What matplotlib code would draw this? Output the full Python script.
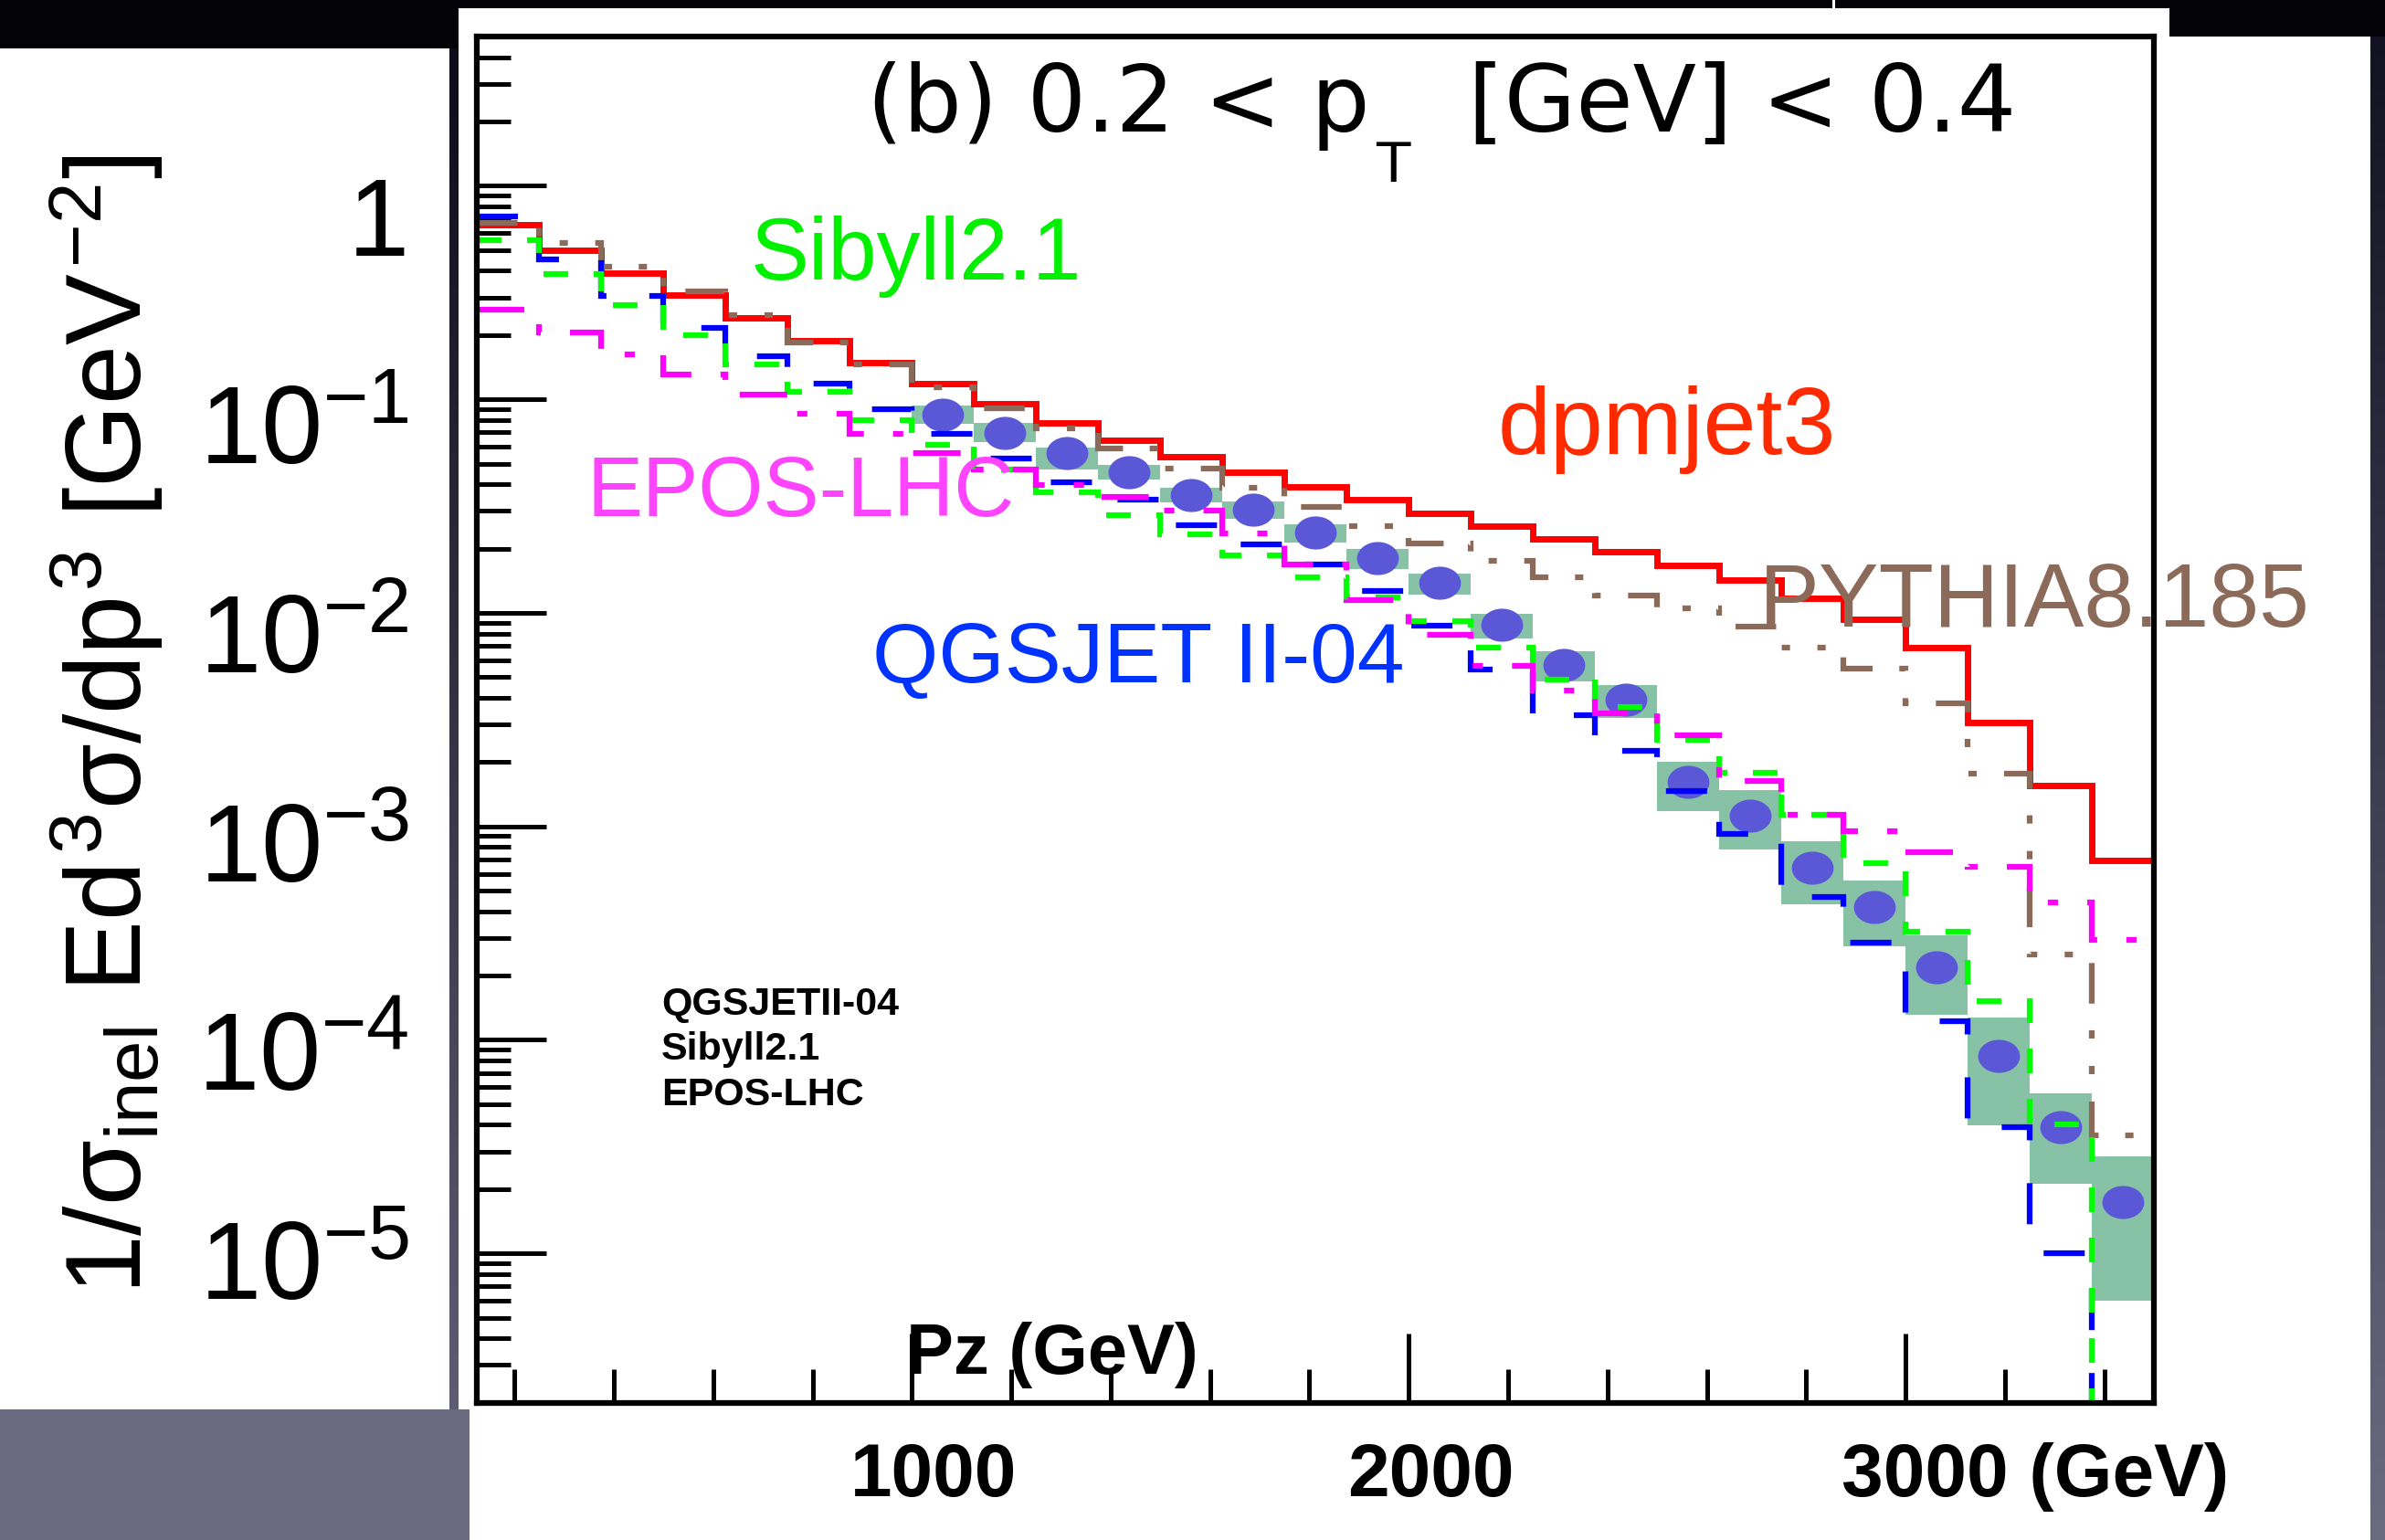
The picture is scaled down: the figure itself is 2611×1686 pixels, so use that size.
import numpy as np
import matplotlib
matplotlib.use('Agg')
import matplotlib.pyplot as plt
import matplotlib.transforms as mtransforms
from matplotlib.patches import Rectangle
from matplotlib.path import Path
from matplotlib.colors import to_rgb
from matplotlib.ticker import FixedLocator, MultipleLocator, LogLocator, NullFormatter

plt.rcParams['font.family'] = ['Liberation Sans', 'DejaVu Sans']
plt.rcParams['mathtext.fontset'] = 'custom'
plt.rcParams['mathtext.rm'] = 'Liberation Sans'
plt.rcParams['mathtext.it'] = 'Liberation Sans'
plt.rcParams['mathtext.bf'] = 'Liberation Sans:bold'
plt.rcParams['lines.scale_dashes'] = False

# ---- data ----
edges = [125, 250, 375, 500, 625, 750, 875, 1000, 1125, 1250, 1375, 1500, 1625, 1750,
         1875, 2000, 2125, 2250, 2375, 2500, 2625, 2750, 2875, 3000, 3125, 3250, 3375, 3500]

dpmjet3 = [0.66, 0.50, 0.39, 0.307, 0.24, 0.188, 0.148, 0.118, 0.0955, 0.0776, 0.0645,
           0.0538, 0.0457, 0.039, 0.0339, 0.0293, 0.0255, 0.0222, 0.0193, 0.0166, 0.0143,
           0.0117, 0.0093, 0.00684, 0.00307, 0.00155, 6.9e-4]
pythia = [0.67, 0.542, 0.417, 0.321, 0.249, 0.185, 0.145, 0.114, 0.091, 0.0728, 0.0588,
          0.0472, 0.0384, 0.0313, 0.0255, 0.0211, 0.0176, 0.0146, 0.0121, 0.0105, 0.00863,
          0.00687, 0.0055, 0.00375, 0.00177, 2.52e-4, 3.56e-5]
qgsjet = [0.718, 0.452, 0.305, 0.217, 0.159, 0.1186, 0.0897, 0.0688, 0.053, 0.041, 0.034,
          0.0257, 0.021, 0.0169, 0.0127, 0.0087, 0.00542, 0.00333, 0.00225, 0.00147, 9.2e-4,
          4.66e-4, 2.86e-4, 1.22e-4, 3.9e-5, 1.0e-5, 0.0]
sibyll = [0.558, 0.385, 0.275, 0.1995, 0.145, 0.108, 0.080, 0.061, 0.0467, 0.0365, 0.0288,
          0.0232, 0.0185, 0.0147, 0.0118, 0.0091, 0.00686, 0.00486, 0.00363, 0.00254, 0.00178,
          0.00113, 6.75e-4, 3.2e-4, 1.52e-4, 4.03e-5, 0.0]
epos = [0.263, 0.206, 0.1625, 0.131, 0.105, 0.0857, 0.069, 0.056, 0.0467, 0.0397, 0.0348,
        0.030, 0.0236, 0.0168, 0.0115, 0.0079, 0.00563, 0.00433, 0.00339, 0.00266, 0.00163,
        0.00113, 9.5e-4, 7.6e-4, 6.45e-4, 4.38e-4, 2.95e-4]

data_x = [1062.5, 1187.5, 1312.5, 1437.5, 1562.5, 1687.5, 1812.5, 1937.5, 2062.5, 2187.5,
          2312.5, 2437.5, 2562.5, 2687.5, 2812.5, 2937.5, 3062.5, 3187.5, 3312.5, 3437.5]
data_y = [0.0848, 0.0697, 0.0558, 0.0455, 0.0356, 0.0305, 0.0238, 0.0180, 0.0138, 0.00877,
          0.00569, 0.00393, 0.00161, 0.00112, 6.4e-4, 4.17e-4, 2.19e-4, 8.4e-5, 3.89e-5, 1.74e-5]
sys_lo = [0.0764, 0.0628, 0.0468, 0.0420, 0.0329, 0.0276, 0.0214, 0.0161, 0.01216, 0.00762,
          0.00478, 0.00321, 0.00118, 7.78e-4, 4.32e-4, 2.74e-4, 1.31e-4, 3.99e-5, 2.12e-5, 6.0e-6]
sys_hi = [0.0931, 0.0773, 0.0597, 0.0491, 0.0387, 0.0331, 0.0259, 0.0199, 0.0152, 0.00991,
          0.00658, 0.00458, 0.00201, 1.479e-3, 8.55e-4, 5.60e-4, 3.10e-4, 1.276e-4, 5.60e-5, 2.86e-5]

ytick_vals = [1, 1e-1, 1e-2, 1e-3, 1e-4, 1e-5]
ytick_text = ['1', r'$10^{-1}$', r'$10^{-2}$', r'$10^{-3}$', r'$10^{-4}$', r'$10^{-5}$']
xtick_vals = [1000, 2000, 3000]
xtick_text = ['1000', '2000', '3000 (GeV)']
small_labels = ['QGSJETII-04', 'Sibyll2.1', 'EPOS-LHC']

# ---- canvas ----
W, H = 2611, 1686
fig = plt.figure(figsize=(W / 100, H / 100), dpi=100, facecolor='#030207')


def fx(px):
    return px / W


def fy(py):
    return 1 - py / H


def panel(x0, y0, x1, y1, color, z=-10):
    fig.add_artist(Rectangle((fx(x0), fy(y1)), fx(x1) - fx(x0), fy(y0) - fy(y1),
                             transform=fig.transFigure, facecolor=color,
                             edgecolor='none', zorder=z))


def strip(x0, y0, x1, y1, top, bottom):
    a = fig.add_axes([fx(x0), fy(y1), fx(x1) - fx(x0), fy(y0) - fy(y1)], zorder=-5)
    c0, c1 = np.array(to_rgb(top)), np.array(to_rgb(bottom))
    t = np.linspace(0, 1, 256)[:, None, None]
    a.imshow(c0 + (c1 - c0) * t, aspect='auto', interpolation='bilinear')
    a.set_axis_off()


panel(0, 53, 492, 1543, 'white')
panel(502, 9, 2375, 1686, 'white')
panel(2375, 40, 2595, 1686, 'white')
panel(0, 1543, 514, 1686, '#6b6a80', z=-9)
panel(2006, 0, 2009, 9, 'white')
strip(492, 53, 502, 1543, '#0d0c18', '#5d5c73')
strip(2595, 40, 2611, 1686, '#121222', '#6a6a80')

# ---- main plot ----
ax = fig.add_axes([fx(522.4), fy(1535.6), fx(2358) - fx(522.4), fy(40) - fy(1535.6)])
ax.set_facecolor('white')
ax.set_yscale('log')
ax.set_xlim(125, 3500)
ax.set_ylim(2e-6, 5)

lo = np.array(sys_lo)
hi = np.array(sys_hi)
ax.bar(data_x, hi - lo, bottom=lo, width=125, color='#88c2a6', linewidth=0, zorder=2)

th = np.linspace(0, 2 * np.pi, 72)
ellipse = Path(np.column_stack([np.cos(th), 0.79 * np.sin(th)]), closed=True)
ax.plot(data_x, data_y, linestyle='none', marker=ellipse, markersize=33,
        color='#5b58d8', markeredgewidth=0, zorder=3)


def hist(vals, color, ls, lw=4.5, z=4):
    v = np.array(vals, dtype=float)
    v = np.where(v > 0, v, 1e-9)
    ax.stairs(v, edges, baseline=None, color=color, linewidth=lw, linestyle=ls,
              zorder=z)


hist(dpmjet3, '#ff0000', '-', lw=5)
hist(pythia, '#8b6a5a', (0, (32, 21, 6.5, 21.6, 6.5, 21.6)))
hist(qgsjet, '#0000ff', (0, (32.4, 33.8)))
hist(sibyll, '#00ff00', (0, (19.4, 20.2)))
hist(epos, '#ff00ff', (0, (37.4, 23, 8, 23)))

for s in ax.spines.values():
    s.set_linewidth(4.5)
    s.set_zorder(6)
ax.xaxis.set_major_locator(FixedLocator(xtick_vals))
ax.xaxis.set_minor_locator(MultipleLocator(200))
ax.yaxis.set_major_locator(LogLocator(base=10, numticks=20))
ax.yaxis.set_minor_locator(LogLocator(base=10, subs=np.arange(2, 10), numticks=20))
ax.yaxis.set_minor_formatter(NullFormatter())
ax.tick_params(which='both', direction='in', top=False, right=False,
               labelleft=False, labelbottom=False, color='black')
ax.tick_params(which='major', length=55, width=3.6)
ax.tick_params(which='minor', length=26.6, width=3.6)

# ---- y tick labels and title in the left panel ----
for k, txt in enumerate(ytick_text):
    fig.text(fx(448), fy(280 + 228.6 * k), txt, ha='right', va='baseline',
             fontsize=87, color='black')

fig.text(fx(117), fy(793), r'$1/\sigma_{inel}\ Ed^{3}\sigma/dp^{3}\ [GeV^{-2}]$',
         rotation=90, ha='center', va='center', fontsize=84, color='black')

# ---- x tick labels ----
trans = mtransforms.blended_transform_factory(ax.transData, fig.transFigure)
for val, txt in zip(xtick_vals, xtick_text):
    if txt.startswith('3000'):
        tr = mtransforms.offset_copy(trans, fig=fig, x=-70, y=0, units='dots')
        ha = 'left'
    else:
        tr = mtransforms.offset_copy(trans, fig=fig, x=24, y=0, units='dots')
        ha = 'center'
    fig.text(val, fy(1638), txt, transform=tr, ha=ha, va='baseline',
             fontsize=59, fontweight='bold', color='black')

fig.text(fx(992), fy(1504), 'Pz (GeV)', ha='left', va='baseline',
         fontsize=56, fontweight='bold', color='black')

# ---- panel title ----
fig.text(fx(949), fy(144), '(b) 0.2 < p', ha='left', va='baseline',
         fontsize=73, family='DejaVu Sans', color='black')
fig.text(fx(1506), fy(199), 'T', ha='left', va='baseline',
         fontsize=44, family='DejaVu Sans', color='black')
fig.text(fx(2207), fy(144), '[GeV] < 0.4', ha='right', va='baseline',
         fontsize=73, family='DejaVu Sans', color='black')

# ---- model labels ----
fig.text(fx(822), fy(306), 'Sibyll2.1', color='#00f000', fontsize=69,
         ha='left', va='baseline', zorder=8)
fig.text(fx(642), fy(565), 'EPOS-LHC', color='#ff44ff', fontsize=66,
         ha='left', va='baseline', zorder=8)
fig.text(fx(955), fy(747), 'QGSJET II-04', color='#0033ff', fontsize=67,
         ha='left', va='baseline', zorder=8)
fig.text(fx(1640), fy(497), 'dpmjet3', color='#ff2a00', fontsize=75,
         ha='left', va='baseline', zorder=8)
fig.text(fx(1926), fy(686), 'PYTHIA8.185', color='#8b6a5a', fontsize=71,
         ha='left', va='baseline', zorder=8)

for k, txt in enumerate(small_labels):
    fig.text(fx(724), fy(1111 + 49.3 * k), txt, ha='left', va='baseline',
             fontsize=31, fontweight='bold', color='black')

fig.savefig('out.png', dpi=100, facecolor=fig.get_facecolor())
